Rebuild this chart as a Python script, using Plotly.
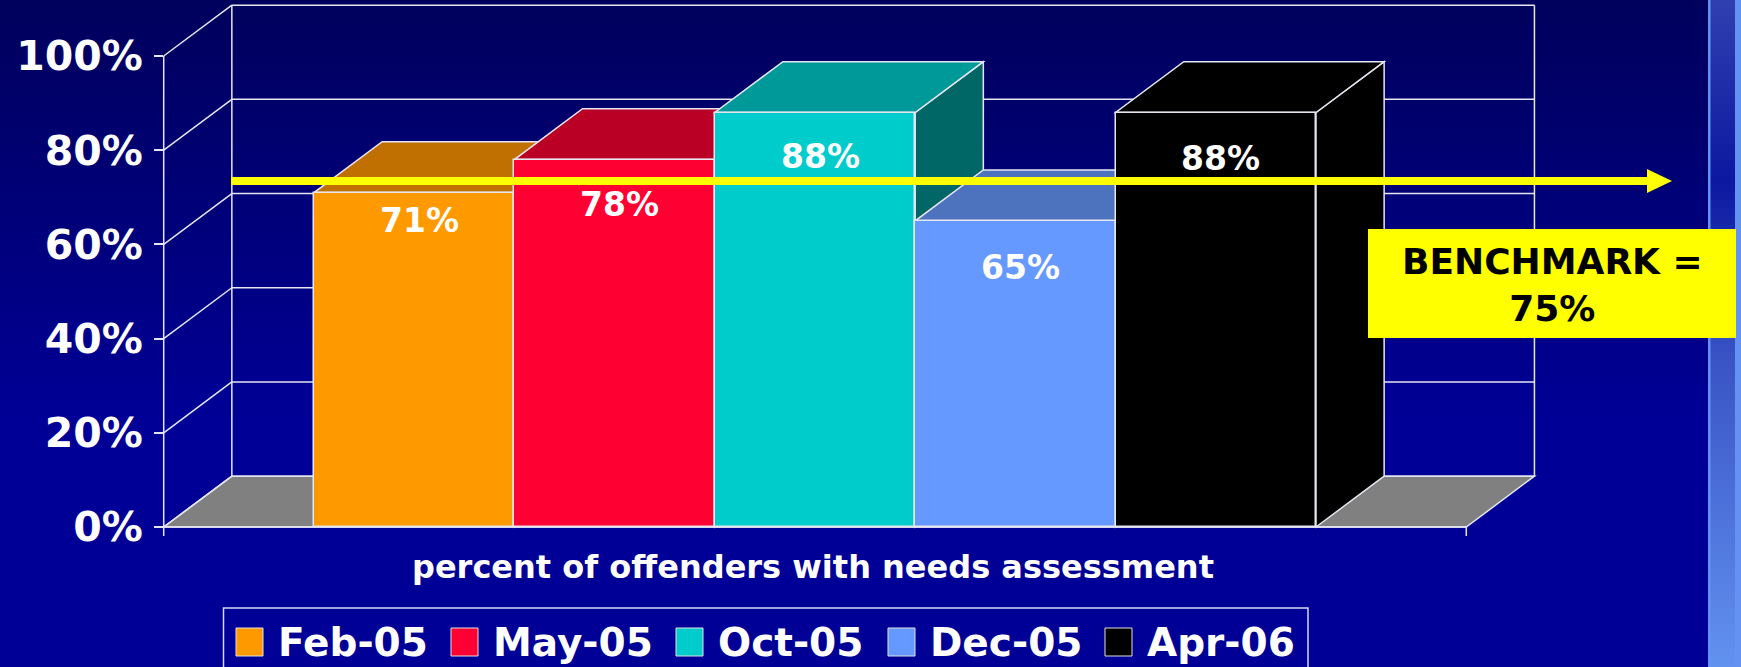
import plotly.graph_objects as go

# ---------------- data ----------------
categories = ["Feb-05", "May-05", "Oct-05", "Dec-05", "Apr-06"]
values = [71, 78, 88, 65, 88]
value_labels = ["71%", "78%", "88%", "65%", "88%"]
y_ticks = [0, 20, 40, 60, 80, 100]
y_tick_labels = ["0%", "20%", "40%", "60%", "80%", "100%"]
axis_title = "percent of offenders with needs assessment"
benchmark = 75

# ---------------- styles ----------------
front_colors = ["#FF9900", "#FF0033", "#00CCCC", "#6699FF", "#000000"]
top_colors = ["#C07000", "#BB0026", "#009999", "#4D73BF", "#000000"]
side_colors = ["#804B00", "#80001A", "#006666", "#334D80", "#000000"]
label_drop = [28, 45, 44, 47, 46]      # px below bar top
legend_swatch_px = [236, 451, 676, 888, 1105]

FONT = "DejaVu Sans"
EDGE = "#E6E6F0"
FIG_W, FIG_H = 1741, 667
ML, MR, MT, MB = 140, 186, 2, 112
PW = FIG_W - ML - MR
PH = FIG_H - MT - MB

X_ORIGIN_PX = 314.0   # pixel of left edge of first bar
PX_PER_X = 200.4
Y_ORIGIN_PX = 527.0   # pixel of 0%
PX_PER_Y = 4.71
DX = 0.34             # depth offset (x units)
DY = 10.8             # depth offset (y units)
SIDE_GAP = 0.75       # floor visible left/right of bars
n = len(categories)
XL = -0.5 - SIDE_GAP
XR = n - 0.5 + SIDE_GAP


def xdata(p):
    return (p - X_ORIGIN_PX) / PX_PER_X - 0.5


def ydata(p):
    return (Y_ORIGIN_PX - p) / PX_PER_Y


def pxx(p):
    return (p - ML) / PW


def pxy(p):
    return (FIG_H - MB - p) / PH


x_range = [xdata(ML), xdata(FIG_W - MR)]
y_range = [ydata(FIG_H - MB), ydata(MT)]

shapes = []

# ---- background gradient + right stripe ----
def lerp(a, b, t):
    return tuple(int(round(a[k] + (b[k] - a[k]) * t)) for k in range(3))


def bg_color(y):
    top, bot = (0, 0, 92), (0, 0, 150)
    t = min(1.0, y / 420.0)
    return lerp(top, bot, t)


def stripe_color(y):
    stops = [(0, (48, 64, 176)), (181, (12, 24, 160)), (350, (56, 82, 196)), (667, (98, 146, 240))]
    for (y0, c0), (y1, c1) in zip(stops[:-1], stops[1:]):
        if y <= y1:
            return lerp(c0, c1, (y - y0) / (y1 - y0))
    return stops[-1][1]


STEP = 8
for yy in range(0, FIG_H, STEP):
    c = bg_color(yy + STEP / 2)
    shapes.append(dict(type="rect", xref="paper", yref="paper", layer="below",
                       x0=pxx(-2), x1=pxx(1708), y0=pxy(yy + STEP + 0.5), y1=pxy(yy),
                       fillcolor="rgb(%d,%d,%d)" % c, line=dict(width=0)))
    s = stripe_color(yy + STEP / 2)
    shapes.append(dict(type="rect", xref="paper", yref="paper", layer="below",
                       x0=pxx(1708), x1=pxx(1743), y0=pxy(yy + STEP + 0.5), y1=pxy(yy),
                       fillcolor="rgb(%d,%d,%d)" % s, line=dict(width=0)))
for x0, x1 in [(1708, 1710.5), (1735, 1743)]:
    shapes.append(dict(type="rect", xref="paper", yref="paper", layer="below",
                       x0=pxx(x0), x1=pxx(x1), y0=pxy(FIG_H + 2), y1=pxy(-2),
                       fillcolor="rgb(100,146,242)", line=dict(width=0)))


def poly(pts, fill, lw=1.5, color=EDGE, layer="below"):
    path = "M " + " L ".join("%.5f,%.5f" % p for p in pts) + " Z"
    return dict(type="path", xref="x", yref="y", layer=layer, path=path,
                fillcolor=fill, line=dict(color=color, width=lw))


def seg(x0, y0, x1, y1, lw=1.5, color=EDGE):
    return dict(type="line", xref="x", yref="y", layer="below",
                x0=x0, y0=y0, x1=x1, y1=y1, line=dict(color=color, width=lw))


# ---- floor ----
shapes.append(poly([(XL, 0), (XR, 0), (XR + DX, DY), (XL + DX, DY)], "#808080"))
# ---- walls / gridlines ----
top_v = y_ticks[-1]
for v in y_ticks:
    shapes.append(seg(XL, v, XL + DX, v + DY))
    shapes.append(seg(XL + DX, v + DY, XR + DX, v + DY))
shapes.append(seg(XL + DX, DY, XL + DX, top_v + DY))
shapes.append(seg(XR + DX, DY, XR + DX, top_v + DY))
# front axes
tick_down = 9 / PX_PER_Y
shapes.append(seg(XL, -tick_down, XL, top_v))
shapes.append(seg(XL, 0, XR, 0))
shapes.append(seg(XR, 0, XR, -tick_down))

# ---- 3D faces (side + top) ----
for i, v in enumerate(values):
    shapes.append(poly([(i + 0.5, 0), (i + 0.5 + DX, DY), (i + 0.5 + DX, v + DY), (i + 0.5, v)],
                       side_colors[i]))
    shapes.append(poly([(i - 0.5, v), (i + 0.5, v), (i + 0.5 + DX, v + DY), (i - 0.5 + DX, v + DY)],
                       top_colors[i]))

# ---- benchmark arrow ----
ARROW_Y = 181
shapes.append(dict(type="line", xref="paper", yref="paper", layer="above",
                   x0=pxx(231), x1=pxx(1650), y0=pxy(ARROW_Y), y1=pxy(ARROW_Y),
                   line=dict(color="#FFFF00", width=8)))
shapes.append(dict(type="path", xref="paper", yref="paper", layer="above",
                   path="M %f,%f L %f,%f L %f,%f Z" % (pxx(1647), pxy(ARROW_Y - 12),
                                                         pxx(1672), pxy(ARROW_Y),
                                                         pxx(1647), pxy(ARROW_Y + 12)),
                   fillcolor="#FFFF00", line=dict(width=0)))
# ---- benchmark box ----
shapes.append(dict(type="rect", xref="paper", yref="paper", layer="above",
                   x0=pxx(1368), x1=pxx(1736), y0=pxy(338), y1=pxy(229),
                   fillcolor="#FFFF00", line=dict(width=0)))

# ---- legend box + swatches ----
shapes.append(dict(type="rect", xref="paper", yref="paper", layer="above",
                   x0=pxx(223.5), x1=pxx(1308), y0=pxy(690), y1=pxy(608),
                   fillcolor="rgba(0,0,0,0)", line=dict(color="#D8D8F0", width=1.5)))
annotations = []
for i, cat in enumerate(categories):
    sx = legend_swatch_px[i]
    shapes.append(dict(type="rect", xref="paper", yref="paper", layer="above",
                       x0=pxx(sx), x1=pxx(sx + 27), y0=pxy(656), y1=pxy(628),
                       fillcolor=front_colors[i], line=dict(color="#E0E0E0", width=1)))
    annotations.append(dict(xref="paper", yref="paper", x=pxx(sx + 40), y=pxy(642),
                            xanchor="left", yanchor="middle", showarrow=False, text=cat,
                            font=dict(family=FONT, size=39, color="white", weight="bold")))

# ---- value labels ----
for i, v in enumerate(values):
    annotations.append(dict(xref="x", yref="y", x=i, y=v, xshift=5, yshift=-label_drop[i],
                            xanchor="center", yanchor="middle", showarrow=False,
                            text=value_labels[i],
                            font=dict(family=FONT, size=33, color="white", weight="bold")))

# ---- axis title ----
annotations.append(dict(xref="paper", yref="paper", x=pxx(812.5), y=pxy(567),
                        xanchor="center", yanchor="middle", showarrow=False, text=axis_title,
                        font=dict(family=FONT, size=32, color="white", weight="bold")))
# ---- benchmark text ----
annotations.append(dict(xref="paper", yref="paper", x=pxx(1552), y=pxy(285),
                        xanchor="center", yanchor="middle", showarrow=False,
                        text="BENCHMARK =<br>%d%%" % benchmark,
                        font=dict(family=FONT, size=36, color="black", weight="bold")))

fig = go.Figure()
fig.add_trace(go.Bar(x=list(range(n)), y=values, width=1,
                     marker=dict(color=front_colors, line=dict(color=EDGE, width=1.5)),
                     showlegend=False, hoverinfo="skip"))

fig.update_layout(
    width=FIG_W, height=FIG_H,
    margin=dict(l=ML, r=MR, t=MT, b=MB, pad=0),
    paper_bgcolor="#000096",
    plot_bgcolor="rgba(0,0,0,0)",
    bargap=0,
    shapes=shapes,
    annotations=annotations,
    showlegend=False,
    xaxis=dict(range=x_range, visible=False, fixedrange=True),
    yaxis=dict(range=y_range, anchor="free", position=pxx(163),
               tickvals=y_ticks, ticktext=y_tick_labels,
               ticks="outside", ticklen=9, tickwidth=1.5, tickcolor=EDGE,
               ticklabelstandoff=3,
               showline=False, showgrid=False, zeroline=False,
               tickfont=dict(family=FONT, size=41, color="white", weight="bold"),
               fixedrange=True),
)

fig.write_html("out.html", config={"displayModeBar": False},
               post_script="document.body.style.margin='0px';"
                           "document.body.style.overflow='hidden';"
                           "document.body.style.background='#000096';")
